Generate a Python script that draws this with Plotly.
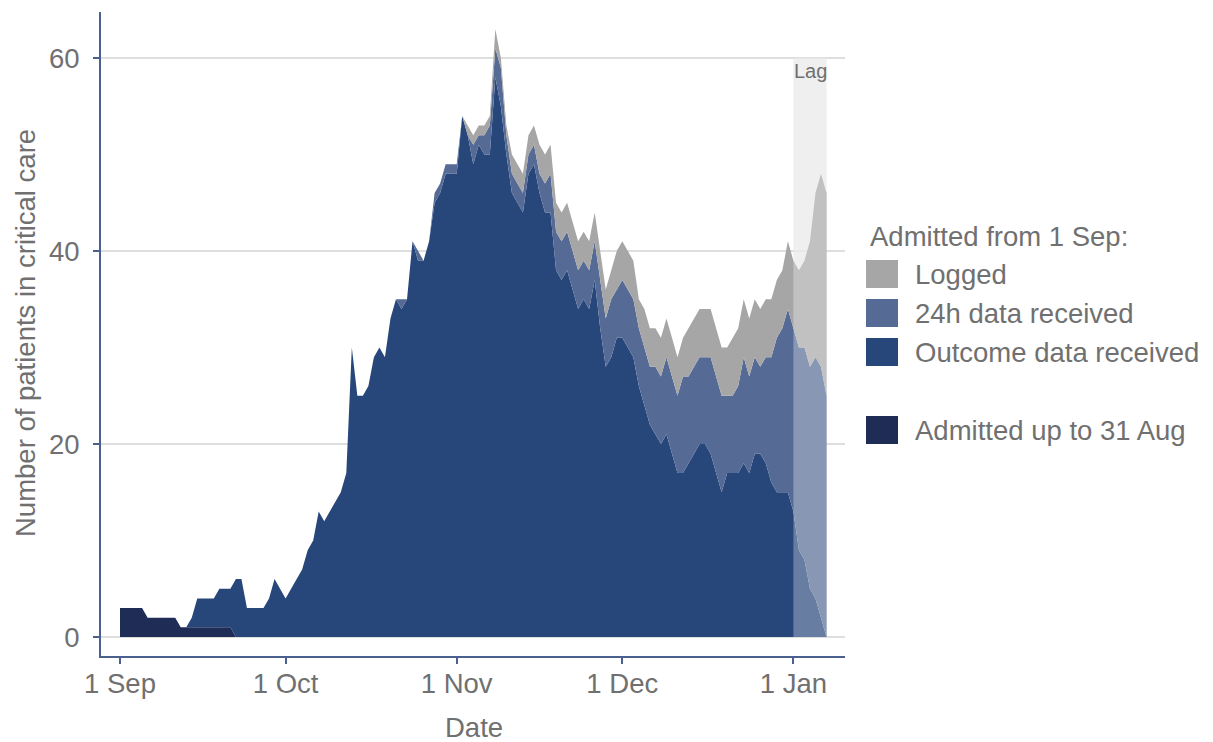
import pandas as pd
import plotly.graph_objects as go

# ---------------- data ----------------
start_date = "2020-09-01"
n_days = 129
dates = pd.date_range(start_date, periods=n_days, freq="D")

# Admitted up to 31 Aug (still in critical care)
admitted_pre = [
    3, 3, 3, 3, 3, 2, 2, 2, 2, 2,
    2, 1, 1, 1, 1, 1, 1, 1, 1, 1,
    1, 0, 0, 0, 0, 0, 0, 0, 0, 0,
    0, 0, 0, 0, 0, 0, 0, 0, 0, 0,
    0, 0, 0, 0, 0, 0, 0, 0, 0, 0,
    0, 0, 0, 0, 0, 0, 0, 0, 0, 0,
    0, 0, 0, 0, 0, 0, 0, 0, 0, 0,
    0, 0, 0, 0, 0, 0, 0, 0, 0, 0,
    0, 0, 0, 0, 0, 0, 0, 0, 0, 0,
    0, 0, 0, 0, 0, 0, 0, 0, 0, 0,
    0, 0, 0, 0, 0, 0, 0, 0, 0, 0,
    0, 0, 0, 0, 0, 0, 0, 0, 0, 0,
    0, 0, 0, 0, 0, 0, 0, 0, 0,
]
# Admitted from 1 Sep: outcome data received
outcome = [
    0, 0, 0, 0, 0, 0, 0, 0, 0, 0,
    0, 0, 0, 1, 3, 3, 3, 3, 4, 4,
    4, 6, 6, 3, 3, 3, 3, 4, 6, 5,
    4, 5, 6, 7, 9, 10, 13, 12, 13, 14,
    15, 17, 30, 25, 25, 26, 29, 30, 29, 33,
    35, 34, 35, 41, 39, 39, 41, 45, 46, 48,
    48, 48, 54, 52, 49, 51, 50, 50, 58, 55,
    50, 46, 45, 44, 48, 49, 46, 44, 44, 38,
    37, 38, 36, 34, 35, 34, 37, 32, 28, 29,
    31, 31, 30, 29, 26, 24, 22, 21, 20, 21,
    19, 17, 17, 18, 19, 20, 20, 19, 17, 15,
    17, 17, 17, 18, 17, 19, 19, 18, 16, 15,
    15, 15, 13, 9, 8, 5, 4, 2, 0,
]
# Admitted from 1 Sep: 24h data received
h24 = [
    0, 0, 0, 0, 0, 0, 0, 0, 0, 0,
    0, 0, 0, 0, 0, 0, 0, 0, 0, 0,
    0, 0, 0, 0, 0, 0, 0, 0, 0, 0,
    0, 0, 0, 0, 0, 0, 0, 0, 0, 0,
    0, 0, 0, 0, 0, 0, 0, 0, 0, 0,
    0, 1, 0, 0, 1, 0, 0, 1, 1, 1,
    1, 1, 0, 0, 2, 1, 2, 3, 3, 4,
    2, 2, 2, 2, 2, 2, 2, 3, 4, 4,
    4, 4, 4, 4, 4, 4, 4, 5, 5, 6,
    5, 6, 6, 6, 6, 6, 6, 7, 7, 8,
    8, 8, 10, 9, 9, 9, 9, 10, 10, 10,
    8, 8, 9, 11, 10, 10, 9, 11, 13, 16,
    17, 19, 19, 21, 22, 23, 25, 26, 25,
]
# Admitted from 1 Sep: logged
logged = [
    0, 0, 0, 0, 0, 0, 0, 0, 0, 0,
    0, 0, 0, 0, 0, 0, 0, 0, 0, 0,
    0, 0, 0, 0, 0, 0, 0, 0, 0, 0,
    0, 0, 0, 0, 0, 0, 0, 0, 0, 0,
    0, 0, 0, 0, 0, 0, 0, 0, 0, 0,
    0, 0, 0, 0, 0, 0, 0, 0, 0, 0,
    0, 0, 0, 1, 1, 1, 1, 1, 2, 1,
    1, 2, 2, 2, 2, 2, 3, 3, 3, 3,
    3, 3, 3, 3, 3, 3, 3, 3, 3, 3,
    4, 4, 4, 4, 3, 4, 4, 4, 4, 4,
    4, 4, 4, 5, 5, 5, 5, 5, 5, 5,
    5, 6, 6, 6, 6, 6, 6, 6, 6, 6,
    6, 7, 7, 8, 9, 13, 17, 20, 21,
]

tick_dates = ["2020-09-01", "2020-10-01", "2020-11-01", "2020-12-01", "2021-01-01"]
tick_labels = ["1 Sep", "1 Oct", "1 Nov", "1 Dec", "1 Jan"]
y_ticks = [0, 20, 40, 60]
lag_start = "2021-01-01"
lag_end = "2021-01-07"
lag_top = 60

series_names = ["Admitted up to 31 Aug", "Outcome data received", "24h data received", "Logged"]

# ---------------- style ----------------
C_A = "#1F2D56"
C_O = "#27467A"
C_H = "#556A94"
C_L = "#A6A6A6"
TXT = "#707070"
AXIS_C = "#4A6190"
GRID_C = "#DEDEDE"
FONT = "Liberation Sans, Arial, sans-serif"
FS = 27.5

# panel in pixels
PL, PR, PT, PB = 101, 845, 12, 656
W, H = 1213, 742


def px_x(px):
    return (px - PL) / (PR - PL)


def px_y(py):
    return (PB - py) / (PB - PT)


fig = go.Figure()
for name, vals, col in zip(series_names, [admitted_pre, outcome, h24, logged], [C_A, C_O, C_H, C_L]):
    fig.add_trace(go.Scatter(
        x=dates, y=vals, name=name, mode="lines", stackgroup="one",
        line=dict(width=0, color=col), fillcolor=col, showlegend=False,
    ))

t0 = pd.Timestamp(start_date)
px_per_day = (793.4 - 120) / 122.0
x_lo = t0 + pd.Timedelta(days=(PL - 120) / px_per_day)
x_hi = t0 + pd.Timedelta(days=(PR - 120) / px_per_day)
y_per_unit = (637 - 58) / 60.0
y_lo = (637 - PB) / y_per_unit
y_hi = (637 - PT) / y_per_unit

shapes = [
    dict(type="rect", xref="x", yref="y", x0=lag_start, x1=lag_end, y0=0, y1=lag_top,
         fillcolor="#E9E9E9", line=dict(width=0), layer="below"),
    dict(type="rect", xref="x", yref="y", x0=lag_start, x1=lag_end, y0=0, y1=lag_top,
         fillcolor="rgba(255,255,255,0.3)", line=dict(width=0), layer="above"),
]

annotations = [
    dict(x="2021-01-04 04:00", y=58.7, xref="x", yref="y", text="Lag", showarrow=False,
         font=dict(size=20, color=TXT, family=FONT), xanchor="center", yanchor="middle"),
    dict(x=px_x(25), y=px_y(333), xref="paper", yref="paper", text="Number of patients in critical care",
         textangle=-90, showarrow=False, font=dict(size=FS, color=TXT, family=FONT),
         xanchor="center", yanchor="middle"),
    dict(x=px_x(474), y=px_y(727), xref="paper", yref="paper", text="Date", showarrow=False,
         font=dict(size=FS, color=TXT, family=FONT), xanchor="center", yanchor="middle"),
    dict(x=px_x(868), y=px_y(236), xref="paper", yref="paper", text="Admitted from 1 Sep:",
         showarrow=False, font=dict(size=FS, color=TXT, family=FONT), xanchor="left", yanchor="middle"),
]

legend_items = [("Logged", C_L, 274), ("24h data received", C_H, 313),
                ("Outcome data received", C_O, 352), ("Admitted up to 31 Aug", C_A, 430)]
for label, col, yc in legend_items:
    shapes.append(dict(type="rect", xref="paper", yref="paper", x0=px_x(866), x1=px_x(898),
                       y0=px_y(yc + 14), y1=px_y(yc - 14), fillcolor=col, line=dict(width=0)))
    annotations.append(dict(x=px_x(913), y=px_y(yc), xref="paper", yref="paper", text=label,
                            showarrow=False, font=dict(size=FS, color=TXT, family=FONT),
                            xanchor="left", yanchor="middle"))

fig.update_layout(
    width=W, height=H, autosize=False,
    margin=dict(l=PL, r=W - PR, t=PT, b=H - PB, pad=0),
    paper_bgcolor="white", plot_bgcolor="white",
    font=dict(family=FONT, size=FS, color=TXT),
    shapes=shapes, annotations=annotations, showlegend=False,
    xaxis=dict(type="date", range=[x_lo, x_hi], tickvals=tick_dates, ticktext=tick_labels,
               showgrid=False, zeroline=False, showline=True, linecolor=AXIS_C, linewidth=2,
               ticks="outside", ticklen=6, tickwidth=2, tickcolor=AXIS_C,
               tickfont=dict(size=FS, color=TXT, family=FONT), ticklabelstandoff=-4),
    yaxis=dict(range=[y_lo, y_hi], tickvals=y_ticks, showgrid=True, gridcolor=GRID_C, gridwidth=2,
               zeroline=False, showline=True, linecolor=AXIS_C, linewidth=2,
               ticks="outside", ticklen=6, tickwidth=2, tickcolor=AXIS_C,
               tickfont=dict(size=FS, color=TXT, family=FONT), ticklabelstandoff=8),
)

fig.write_html("out.html", config={"displayModeBar": False},
               post_script="document.body.style.margin='0';document.body.style.overflow='hidden';")
